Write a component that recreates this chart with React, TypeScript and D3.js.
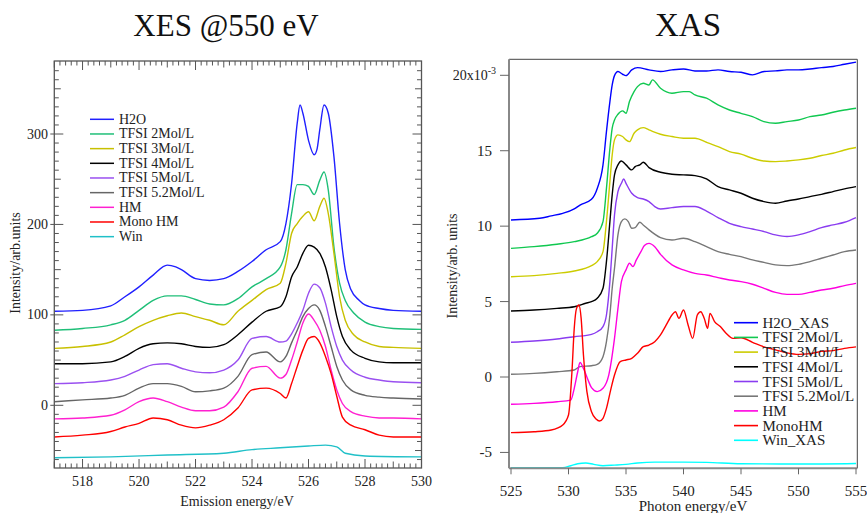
import React from "react";
import * as d3 from "d3";

type P = [number, number];

// ---------- XES (left) ----------
const xesNames = ["H2O", "TFSI 2Mol/L", "TFSI 3Mol/L", "TFSI 4Mol/L", "TFSI 5Mol/L", "TFSI 5.2Mol/L", "HM", "Mono HM", "Win"];
const xesColors = ["#2020ff", "#1fbf78", "#c8c000", "#000000", "#9a50f0", "#666666", "#ff20d0", "#ff0000", "#20c0c8"];

const xesH2O: P[] = [[517,104],[518,105],[519,110],[519.5,120],[520,131],[520.5,144],[521,155],[521.3,153],[521.5,150],[522,140],[522.5,138],[523,140],[523.5,148],[524,159],[524.5,172],[525,181],[525.2,201],[525.4,245],[525.6,312],[525.7,332],[525.8,323],[526,293],[526.2,277],[526.3,283],[526.4,305],[526.55,332],[526.7,323],[526.9,275],[527.1,201],[527.3,150],[527.5,128],[527.8,116],[528,111],[528.5,107],[529,105],[530,104]];
const xes2M: P[] = [[517,83],[518,85],[519,89],[519.5,94],[520,105],[520.5,116],[521,121],[521.5,121],[522,117],[522.5,112],[523,111],[523.5,118],[524,131],[524.5,140],[525,153],[525.2,172],[525.4,212],[525.6,244],[525.8,244],[526,242],[526.2,233],[526.4,249],[526.55,258],[526.7,238],[526.9,175],[527.1,135],[527.3,116],[527.6,102],[528,92],[528.5,87],[529,85],[530,84]];
const xes3M: P[] = [[517,63],[518,65],[519,70],[519.5,78],[520,87],[520.5,94],[521,99],[521.5,102],[522,98],[522.5,94],[523,89],[523.5,104],[524,116],[524.5,128],[525,135],[525.2,157],[525.4,190],[525.6,201],[525.8,209],[526,214],[526.2,204],[526.4,220],[526.55,229],[526.7,212],[526.9,168],[527.1,120],[527.3,94],[527.6,78],[528,70],[528.5,65],[529,64],[530,63]];
const xes4M: P[] = [[517,46],[518,46],[519,48],[519.5,54],[520,63],[520.5,68],[521,69],[521.5,68],[522,65],[522.5,64],[523,67],[523.5,78],[524,92],[524.5,104],[525,109],[525.2,120],[525.4,142],[525.6,153],[525.8,168],[526,177],[526.2,175],[526.4,168],[526.6,153],[526.8,128],[527,98],[527.2,76],[527.5,61],[528,52],[528.5,48],[529,47],[530,47]];
const xes5M: P[] = [[517,24],[518,25],[519,28],[519.5,32],[520,39],[520.5,45],[521,46],[521.5,41],[522,37],[522.5,36],[523,39],[523.5,50],[524,74],[524.5,76],[525,70],[525.2,71],[525.4,79],[525.6,91],[525.8,105],[526,124],[526.2,134],[526.4,130],[526.6,113],[526.8,87],[527,65],[527.2,50],[527.5,39],[528,31],[528.5,28],[529,26],[530,25]];
const xes52M: P[] = [[517,4],[518,6],[519,8],[519.5,11],[520,19],[520.5,24],[521,24],[521.5,21],[522,15],[522.5,16],[523,19],[523.5,32],[524,56],[524.5,59],[525,48],[525.2,54],[525.4,69],[525.6,83],[525.8,98],[526,107],[526.2,111],[526.4,105],[526.6,87],[526.8,65],[527,43],[527.2,28],[527.5,17],[528,11],[528.5,9],[529,8],[530,7]];
const xesHM: P[] = [[517,-15],[518,-14],[519,-11],[519.5,-5],[520,4],[520.5,8],[521,4],[521.5,-2],[522,-6],[522.5,-6],[523,-2],[523.5,15],[524,41],[524.5,43],[525,30],[525.2,34],[525.4,50],[525.6,70],[525.8,91],[526,101],[526.2,94],[526.4,83],[526.6,65],[526.8,39],[527,17],[527.2,2],[527.5,-7],[528,-12],[528.5,-14],[529,-14],[530,-15]];
const xesMono: P[] = [[517,-35],[518,-33],[519,-29],[519.5,-24],[520,-20],[520.5,-14],[521,-16],[521.5,-22],[522,-25],[522.5,-22],[523,-16],[523.5,-3],[524,17],[524.5,19],[525,13],[525.2,8],[525.4,24],[525.6,43],[525.8,61],[526,74],[526.2,76],[526.4,69],[526.6,54],[526.8,35],[527,10],[527.2,-13],[527.5,-22],[528,-27],[528.5,-33],[529,-35],[530,-35]];
const xesWin: P[] = [[517,-58],[519,-57],[521,-55],[523,-53],[524,-49],[525,-47],[526,-45],[526.6,-44],[527,-46],[527.3,-53],[528,-56],[530,-57]];
const xesSeries = [xesH2O, xes2M, xes3M, xes4M, xes5M, xes52M, xesHM, xesMono, xesWin];

const xesXTicks = [518, 520, 522, 524, 526, 528, 530];
const xesYTicks = [0, 100, 200, 300];

// ---------- XAS (right) ----------
const xasNames = ["H2O_XAS", "TFSI 2Mol/L", "TFSI 3Mol/L", "TFSI 4Mol/L", "TFSI 5Mol/L", "TFSI 5.2Mol/L", "HM", "MonoHM", "Win_XAS"];
const xasColors = ["#0000ff", "#10c850", "#cccc00", "#000000", "#8a3cf0", "#777777", "#ff00e0", "#ff0000", "#00ffff"];

const xasH2O: P[] = [[525,10.41],[527.5,10.52],[528.5,10.68],[529.5,10.85],[530.5,11.14],[531,11.4],[532,11.78],[532.5,12.5],[533,14.06],[533.3,16.27],[533.6,18.26],[533.8,19.36],[534,19.98],[534.3,20.25],[534.7,20.07],[535,19.98],[535.5,20.36],[536,20.51],[537,20.36],[538,20.25],[539,20.36],[540,20.42],[541,20.29],[542,20.29],[543,20.36],[544,20.25],[545,20.2],[546,20.03],[547,20.25],[548,20.29],[549,20.36],[550,20.36],[551,20.42],[552,20.51],[553,20.58],[554,20.73],[555,20.87]];
const xas2M: P[] = [[525,8.53],[527,8.64],[529,8.8],[530.5,8.97],[532,9.3],[532.5,9.53],[533,10.3],[533.3,12.5],[533.6,15.16],[533.8,16.5],[534,17.04],[534.3,17.42],[534.7,17.64],[535,17.48],[535.3,18.26],[535.7,18.92],[536,19.25],[536.5,19.47],[537,19.36],[537.3,19.7],[538,19.14],[539,18.81],[540,18.92],[540.5,18.92],[541,18.7],[542,18.48],[543,18.04],[544,17.7],[545,17.48],[546,17.26],[547,16.93],[548,16.82],[549,16.93],[550,17.04],[551,17.26],[552,17.37],[553,17.55],[554,17.7],[555,17.82]];
const xas3M: P[] = [[525,6.65],[527,6.72],[529,6.87],[530.5,7.03],[532,7.38],[532.5,7.65],[533,8.31],[533.3,10.3],[533.6,12.95],[533.8,14.72],[534,15.72],[534.3,16.05],[534.7,15.94],[535,15.72],[535.3,15.6],[535.7,16.16],[536,16.38],[536.5,16.53],[537,16.38],[538,16.09],[539,15.94],[540,15.83],[541,15.83],[542,15.56],[543,15.27],[544,14.94],[545,14.77],[546,14.5],[547,14.32],[548,14.28],[549,14.32],[550,14.39],[551,14.5],[552,14.68],[553,14.83],[554,15.05],[555,15.21]];
const xas4M: P[] = [[525,4.38],[527,4.44],[529,4.55],[530.5,4.66],[531.5,4.89],[532,5.0],[532.5,5.22],[533,5.88],[533.3,7.65],[533.6,10.3],[533.8,12.07],[534,13.4],[534.3,14.06],[534.6,14.32],[535,14.06],[535.5,13.73],[535.8,13.95],[536.2,14.06],[536.5,14.24],[537,13.88],[538,13.57],[539,13.44],[540,13.4],[541,13.35],[542,13.13],[543,12.62],[544,12.4],[545,12.18],[546,11.85],[547,11.63],[548,11.52],[549,11.67],[550,11.8],[551,11.96],[552,12.11],[553,12.29],[554,12.47],[555,12.62]];
const xas5M: P[] = [[525,2.3],[527,2.39],[529,2.52],[530.5,2.67],[532,2.83],[532.5,3.0],[533,3.34],[533.3,4.11],[533.6,6.32],[533.8,8.53],[534,10.74],[534.3,12.29],[534.6,12.84],[534.8,13.13],[535,12.84],[535.5,12.18],[536,11.89],[536.5,11.8],[537,11.63],[537.5,11.3],[538,11.14],[539,11.23],[540,11.3],[541,11.3],[542,11.0],[543,10.57],[544,10.19],[545,9.97],[546,9.81],[547,9.64],[548,9.42],[549,9.31],[550,9.42],[551,9.64],[552,9.9],[553,10.08],[554,10.26],[555,10.57]];
const xas52M: P[] = [[525,0.18],[527,0.24],[529,0.35],[530.5,0.46],[531,0.69],[532,0.75],[532.5,0.84],[533,1.35],[533.3,2.34],[533.6,4.11],[533.8,5.88],[534,7.21],[534.3,9.42],[534.6,10.3],[534.9,10.48],[535.2,10.3],[535.5,9.86],[535.8,9.9],[536.2,10.26],[536.5,10.08],[537,9.75],[538,9.24],[539,9.08],[540,9.2],[541,8.97],[542,8.64],[543,8.31],[544,8.13],[545,7.98],[546,7.76],[547,7.6],[548,7.43],[549,7.38],[550,7.47],[551,7.65],[552,7.87],[553,8.09],[554,8.31],[555,8.42]];
const xasHM: P[] = [[525,-1.81],[527,-1.75],[529,-1.64],[530.2,-1.53],[530.5,-0.75],[530.8,0.35],[531,0.97],[531.3,0.57],[531.7,-0.2],[532,-0.71],[532.5,-0.97],[533,-0.75],[533.5,0.13],[534,2.56],[534.3,4.55],[534.6,6.32],[535,7.1],[535.3,7.54],[535.6,7.32],[535.9,7.76],[536.3,8.31],[536.6,8.71],[537,8.86],[537.5,8.64],[538,8.13],[539,7.43],[540,7.1],[541,6.87],[542,6.76],[543,6.59],[544,6.43],[545,6.32],[546,6.15],[547,5.88],[548,5.61],[549,5.48],[550,5.48],[551,5.61],[552,5.77],[553,5.88],[554,6.06],[555,6.21]];
const xasMono: P[] = [[525,-3.69],[527,-3.63],[528.5,-3.51],[529.5,-3.18],[530,-2.52],[530.3,0.35],[530.5,3.23],[530.7,4.55],[530.9,4.77],[531.1,3.89],[531.3,1.46],[531.6,-0.97],[532,-2.3],[532.4,-2.79],[532.7,-2.92],[533,-2.74],[533.3,-2.08],[533.7,-0.75],[534,0.13],[534.5,1.02],[535,1.13],[535.5,1.24],[536,1.57],[536.5,2.01],[537,2.12],[537.5,2.34],[538,2.79],[538.5,3.45],[539,4.11],[539.3,4.33],[539.6,3.89],[540,4.44],[540.4,3.45],[540.8,2.56],[541.2,4.11],[541.5,4.33],[541.8,3.89],[542.1,3.23],[542.3,4.22],[542.7,3.67],[543.2,3.34],[543.7,2.9],[544.3,2.56],[545,2.6],[546,2.3],[547,2.0],[548,1.8],[549,1.6],[550,1.5],[551,1.55],[552,1.7],[553,1.75],[554,1.9],[555,2.0]];
const xasWin: P[] = [[525,-6.01],[529.5,-6.01],[530.2,-5.88],[530.8,-5.75],[531.5,-5.7],[532.2,-5.79],[533,-5.88],[534,-5.84],[535,-5.79],[536,-5.7],[537.5,-5.64],[540,-5.64],[542,-5.66],[545,-5.75],[550,-5.77],[555,-5.73]];
const xasSeries = [xasH2O, xas2M, xas3M, xas4M, xas5M, xas52M, xasHM, xasMono, xasWin];

const xasXTicks = [525, 530, 535, 540, 545, 550, 555];
const xasYTicks = [-5, 0, 5, 10, 15, 20];

const FONT = "'Liberation Serif', 'DejaVu Serif', serif";

export default function App() {
  // left panel geometry
  const L = { x0: 54.3, x1: 421.5, y0: 61, y1: 468 };
  const xL = d3.scaleLinear().domain([517, 530]).range([54.3, 421.5]);
  const yL = d3.scaleLinear().domain([0, 300]).range([405.3, 134]);
  const R = { x0: 509, x1: 857.3, y0: 59.3, y1: 468.3 };
  const xR = d3.scaleLinear().domain([525, 555]).range([511, 856]);
  const yR = d3.scaleLinear().domain([0, 20]).range([377, 75.3]);

  const lineL = d3.line<P>().x(d => xL(d[0])).y(d => yL(d[1])).curve(d3.curveMonotoneX);
  const lineR = d3.line<P>().x(d => xR(d[0])).y(d => yR(d[1])).curve(d3.curveMonotoneX);

  // left minor ticks
  const xMinor = d3.range(0, 66).map(i => 517 + i * 0.2);
  const yMinor = d3.range(-6, 39).map(i => i * 10);

  const axisCol = "#555";

  return (
    <svg width={867} height={513} style={{ position: "absolute", left: 0, top: 0, background: "#fff" }} fontFamily={FONT}>
      <rect x={0} y={0} width={867} height={513} fill="#fff" />
      {/* Titles */}
      <text x={226} y={36} fontSize={31} textAnchor="middle" fill="#111">XES @550 eV</text>
      <text x={688} y={36} fontSize={33} textAnchor="middle" fill="#111">XAS</text>

      {/* ===== Left panel ===== */}
      <g clipPath="url(#clipL)">
        {xesSeries.map((s, i) => (
          <path key={i} d={lineL(s) || ""} fill="none" stroke={xesColors[i]} strokeWidth={1.4} />
        ))}
      </g>
      <defs>
        <clipPath id="clipL"><rect x={L.x0} y={L.y0} width={L.x1 - L.x0} height={L.y1 - L.y0} /></clipPath>
        <clipPath id="clipR"><rect x={R.x0} y={R.y0} width={R.x1 - R.x0} height={R.y1 - R.y0} /></clipPath>
      </defs>
      <rect x={L.x0} y={L.y0} width={L.x1 - L.x0} height={L.y1 - L.y0} fill="none" stroke={axisCol} strokeWidth={1.3} />
      {xMinor.map((v, i) => {
        const r = Math.round(v * 10) / 10;
        const len = Math.abs(r % 2) < 1e-6 ? 9 : Math.abs(r % 1) < 1e-6 ? 6.5 : 4.5;
        const x = xL(r);
        return (
          <g key={"xm" + i} stroke={axisCol} strokeWidth={1}>
            <line x1={x} x2={x} y1={L.y1} y2={L.y1 - len} />
            <line x1={x} x2={x} y1={L.y0} y2={L.y0 + len} />
          </g>
        );
      })}
      {yMinor.map((v, i) => {
        const y = yL(v);
        if (y < L.y0 + 1 || y > L.y1 - 1) return null;
        const len = v % 100 === 0 ? 9 : v % 50 === 0 ? 6.5 : 4.5;
        return (
          <g key={"ym" + i} stroke={axisCol} strokeWidth={1}>
            <line x1={v % 100 === 0 ? L.x0 - 4 : L.x0} x2={L.x0 + len} y1={y} y2={y} />
            <line x1={L.x1} x2={L.x1 - len} y1={y} y2={y} />
          </g>
        );
      })}
      {xesXTicks.map(t => (
        <text key={"xt" + t} x={xL(t)} y={486} fontSize={14} textAnchor="middle" fill="#222">{t}</text>
      ))}
      {xesYTicks.map(t => (
        <text key={"yt" + t} x={48} y={yL(t) + 4.5} fontSize={14} textAnchor="end" fill="#222">{t}</text>
      ))}
      <text x={237} y={506} fontSize={14} textAnchor="middle" fill="#222">Emission energy/eV</text>
      <text transform="translate(20,263) rotate(-90)" fontSize={14} textAnchor="middle" fill="#222">Intensity/arb.units</text>
      {/* left legend */}
      {xesNames.map((n, i) => {
        const y = 119.3 + i * 14.67;
        return (
          <g key={"ll" + i}>
            <line x1={90} x2={114} y1={y} y2={y} stroke={xesColors[i]} strokeWidth={1.5} />
            <text x={119} y={y + 4.5} fontSize={14} fill="#222">{n}</text>
          </g>
        );
      })}

      {/* ===== Right panel ===== */}
      <g clipPath="url(#clipR)">
        {xasSeries.map((s, i) => (
          <path key={i} d={lineR(s) || ""} fill="none" stroke={xasColors[i]} strokeWidth={1.4} />
        ))}
      </g>
      <line x1={R.x0} x2={R.x1} y1={R.y0} y2={R.y0} stroke="#444" strokeWidth={1} />
      <line x1={R.x1} x2={R.x1} y1={R.y0} y2={R.y1} stroke="#444" strokeWidth={1} />
      <line x1={R.x0} x2={R.x0} y1={R.y0} y2={R.y1} stroke="#888" strokeWidth={2} />
      <line x1={R.x0} x2={R.x1} y1={R.y1} y2={R.y1} stroke="#888" strokeWidth={2} />
      {xasXTicks.map(t => (
        <g key={"rx" + t}>
          <line x1={xR(t)} x2={xR(t)} y1={R.y1} y2={R.y1 + 6} stroke="#666" strokeWidth={1} />
          <text x={xR(t)} y={496} fontSize={15} textAnchor="middle" fill="#222">{t}</text>
        </g>
      ))}
      {xasYTicks.map(t => (
        <g key={"ry" + t}>
          <line x1={R.x0 - 9} x2={R.x0} y1={yR(t)} y2={yR(t)} stroke="#666" strokeWidth={1} />
          {t === 20 ? (
            <text x={496} y={yR(t) + 4.5} fontSize={14} textAnchor="end" fill="#222">
              20x10<tspan fontSize={10} dy={-6}>-3</tspan>
            </text>
          ) : (
            <text x={492} y={yR(t) + 5} fontSize={15} textAnchor="end" fill="#222">{t}</text>
          )}
        </g>
      ))}
      <text x={693} y={511} fontSize={15} textAnchor="middle" fill="#222">Photon energy/eV</text>
      <text transform="translate(457,266) rotate(-90)" fontSize={14} textAnchor="middle" fill="#222">Intensity/arb. units</text>
      {xasNames.map((n, i) => {
        const y = 322.7 + i * 14.7;
        return (
          <g key={"rl" + i}>
            <line x1={734} x2={758} y1={y} y2={y} stroke={xasColors[i]} strokeWidth={1.6} />
            <text x={762.5} y={y + 5} fontSize={15} fill="#222">{n}</text>
          </g>
        );
      })}
    </svg>
  );
}
